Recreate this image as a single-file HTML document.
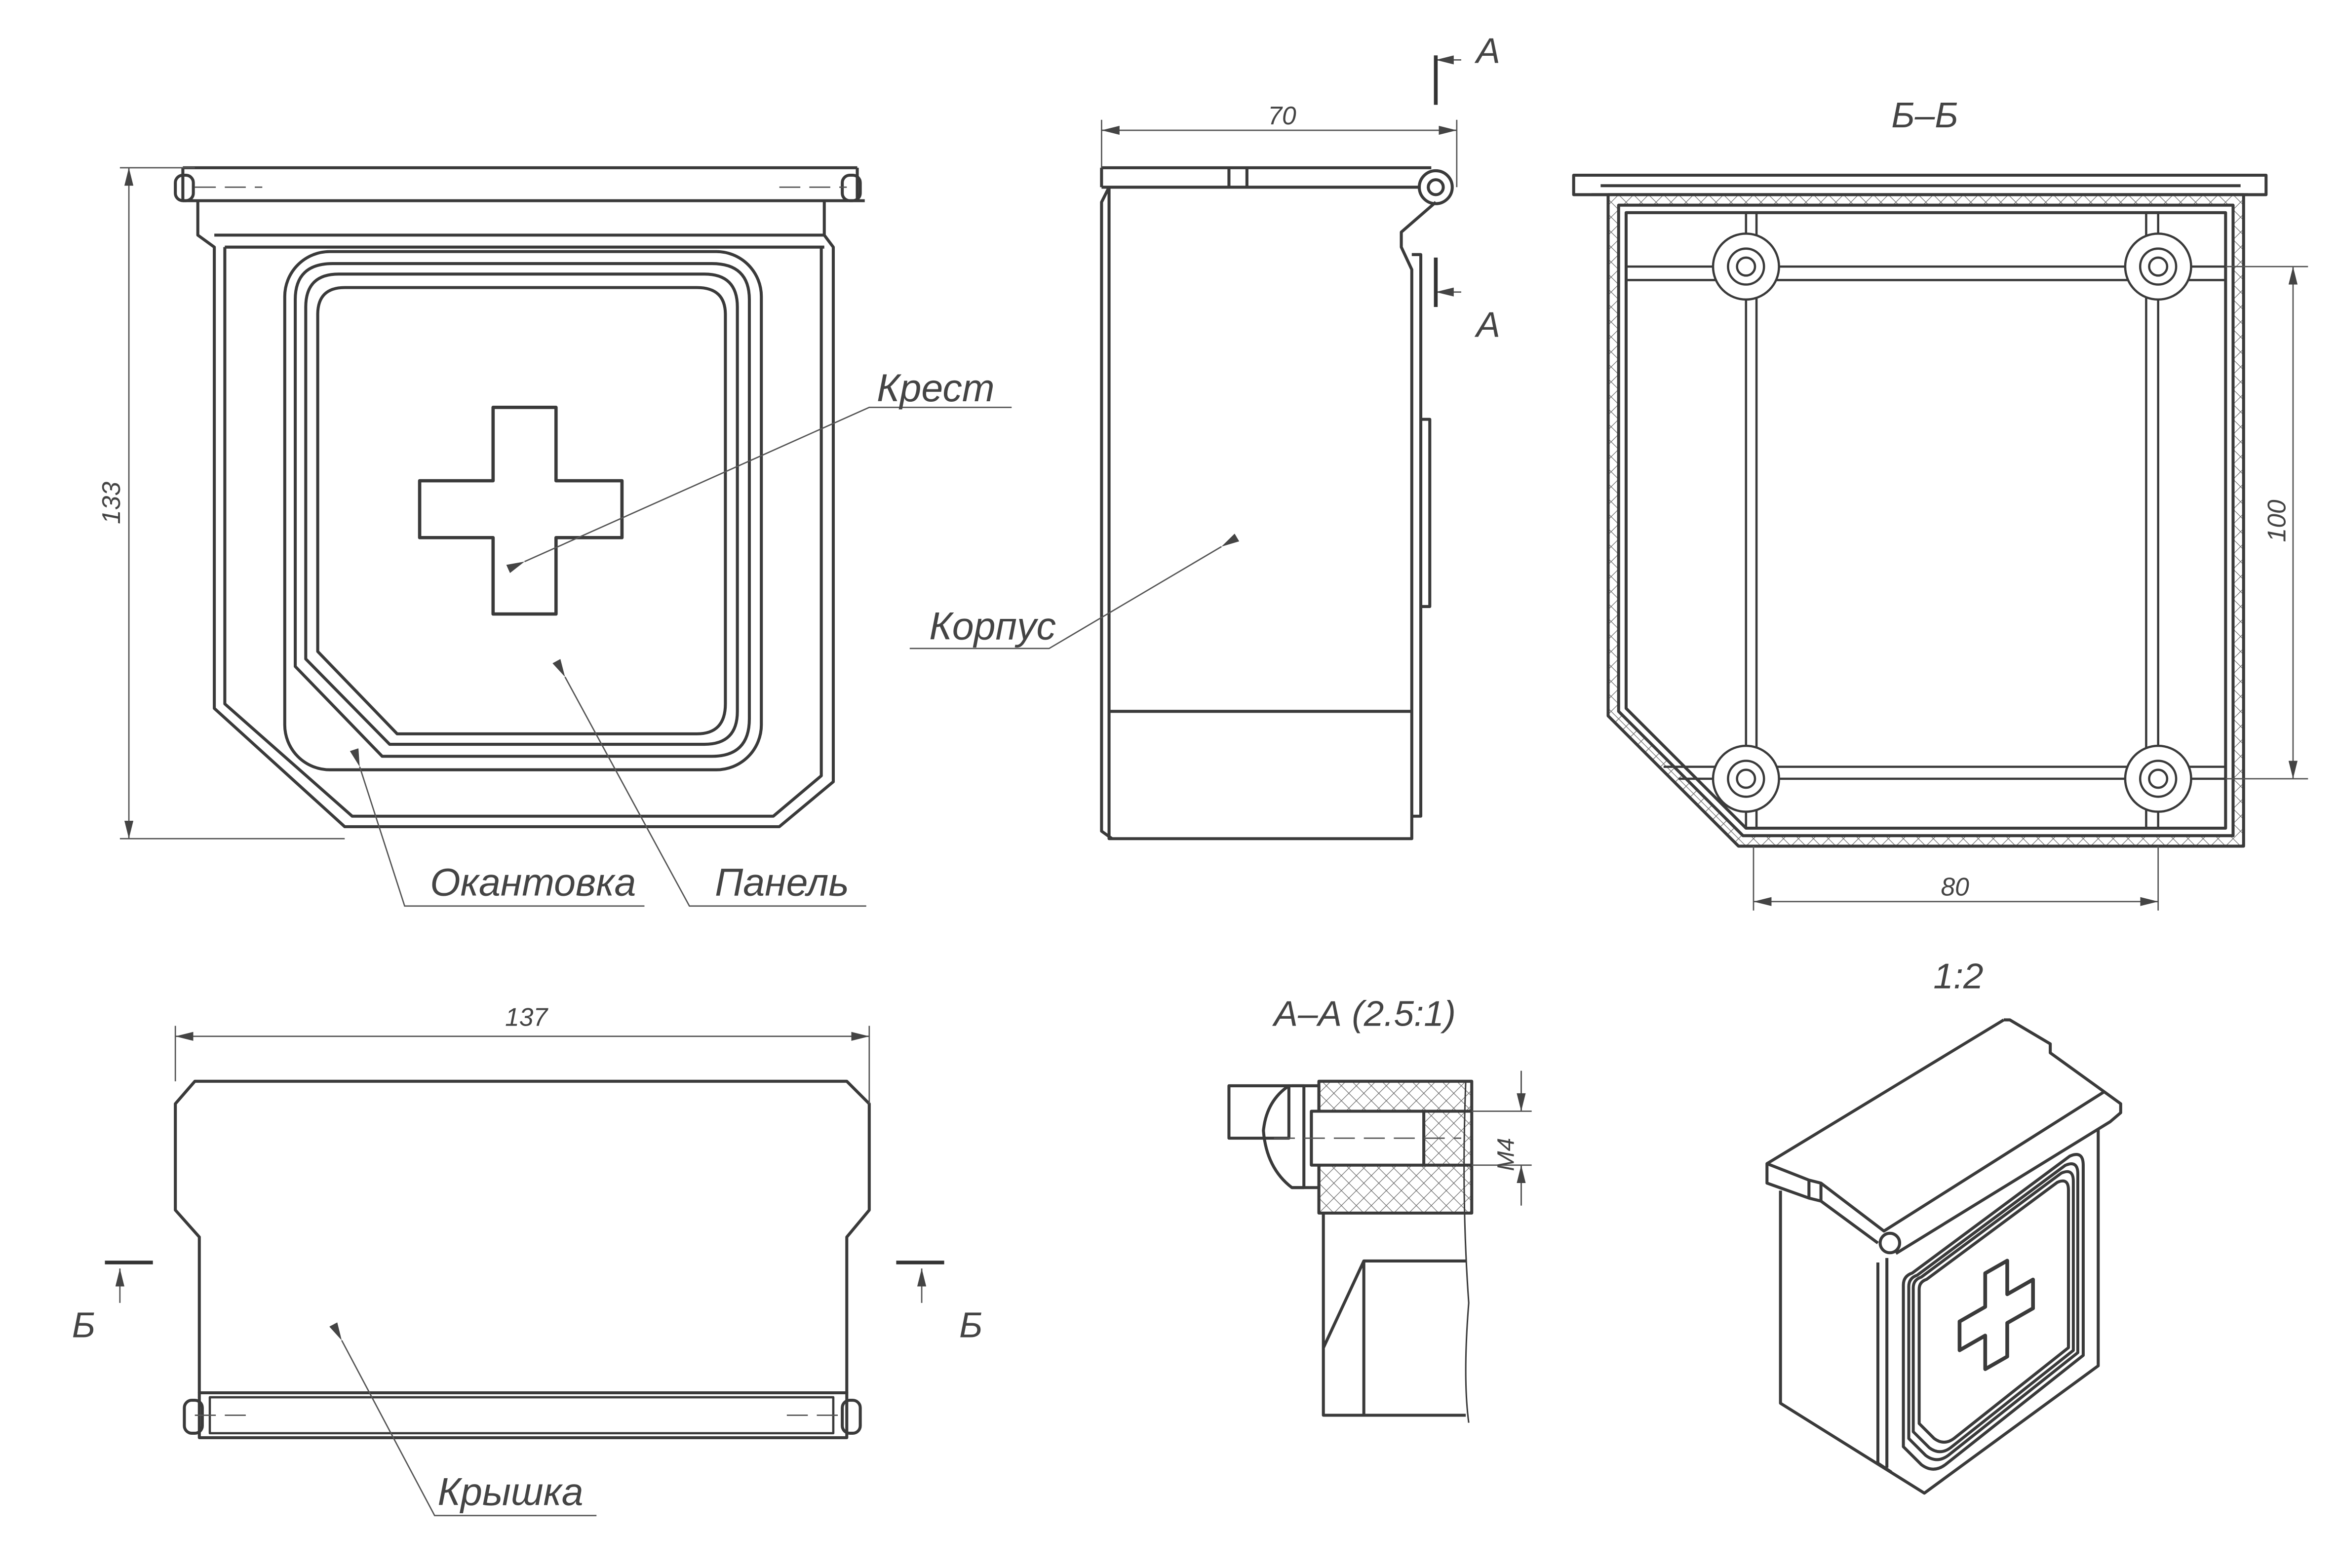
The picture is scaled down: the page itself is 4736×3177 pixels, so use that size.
<!DOCTYPE html>
<html><head><meta charset="utf-8"><style>
html,body{margin:0;padding:0;background:#fff;}
svg{display:block;}
text{font-family:"Liberation Sans",sans-serif;font-style:italic;fill:#444;}
</style></head><body>
<svg width="4736" height="3177" viewBox="0 0 1560 1047" preserveAspectRatio="none" xmlns="http://www.w3.org/2000/svg">
<defs>
<pattern id="hx" width="10" height="10" patternUnits="userSpaceOnUse">
<path d="M0,0L10,10M10,0L0,10" stroke="#666" stroke-width="0.4"/>
</pattern>
<marker id="ar" markerWidth="12" markerHeight="6" refX="12" refY="3" orient="auto" markerUnits="userSpaceOnUse"><path d="M0,0L12,3L0,6z" fill="#444"/></marker>
<marker id="al" markerWidth="12" markerHeight="6" refX="0" refY="3" orient="auto" markerUnits="userSpaceOnUse"><path d="M12,0L0,3L12,6z" fill="#444"/></marker>
</defs>
<rect width="1560" height="1047" fill="#fff"/>
<g fill="none" stroke="#3a3a3a" stroke-width="2" stroke-linejoin="round">
<!-- FRONT VIEW -->
<path d="M122,112H572M122,112V134H577M572,112V134"/>
<rect x="117" y="117" width="12" height="17" rx="5"/>
<rect x="562" y="117" width="12" height="17" rx="5"/>
<path d="M132,134V157L143,165V473L230,552H520L556,522V165L550,157V134"/>
<path d="M143,157H550M150,165H550M150,165V470L235,545H516L548,518V165"/>
<rect x="190" y="168" width="318" height="346" rx="30"/>
<path d="M197,200Q197,176 222,176H475Q500,176 500,200V480Q500,505 475,505H255L197,445Z"/>
<path d="M204,205Q204,183 226,183H470Q492,183 492,205V475Q492,497 470,497H260L204,440Z"/>
<path d="M212,210Q212,192 230,192H465Q484,192 484,210V470Q484,490 465,490H265L212,435Z"/>
<path d="M329,272H371V321H415V359H371V410H329V359H280V321H329Z" stroke-width="2.2"/>
<!-- SIDE VIEW -->
<path d="M735,112H955M735,112V125M735,125H948"/>
<path d="M740,125V560H942V475H740M740,475H942V180L935,165V155L958,135"/>
<path d="M740,125L735,135V555L742,560"/>
<path d="M820,112V125M832,112V125"/>
<circle cx="958" cy="125" r="11"/><circle cx="958" cy="125" r="5"/>
<path d="M942,170H948V545H942M948,280H954V405H948"/>
<!-- B-B SECTION -->
<path d="M1050,117H1512V130H1050Z"/>
<path d="M1062,130H1500M1068,124H1495"/>
<path d="M1073,130V478L1160,565H1497V130ZM1080,137V475L1163,558H1490V137Z" fill="url(#hx)" fill-rule="evenodd"/>
<path d="M1085,142V473L1165,553H1485V142Z"/>
<path d="M1085,178H1485M1085,187H1485M1110,512H1485M1120,520H1485M1165,142V553M1172,142V553M1432,142V553M1440,142V553" stroke-width="1.5"/>
<g stroke-width="1.5" fill="#fff">
<circle cx="1165" cy="178" r="22"/><circle cx="1165" cy="178" r="12"/><circle cx="1165" cy="178" r="6"/>
<circle cx="1440" cy="178" r="22"/><circle cx="1440" cy="178" r="12"/><circle cx="1440" cy="178" r="6"/>
<circle cx="1165" cy="520" r="22"/><circle cx="1165" cy="520" r="12"/><circle cx="1165" cy="520" r="6"/>
<circle cx="1440" cy="520" r="22"/><circle cx="1440" cy="520" r="12"/><circle cx="1440" cy="520" r="6"/>
</g>
<!-- TOP VIEW (lid) -->
<path d="M130,722H565L580,737V808L565,826V930H133V826L117,808V737Z"/>
<path d="M133,930H565V960H133Z"/>
<rect x="123" y="935" width="12" height="22" rx="5"/>
<rect x="562" y="935" width="12" height="22" rx="5"/>
<path d="M140,933H556V957H140Z" stroke-width="1.5"/>
<!-- A-A SECTION -->
<path d="M820,725H860V760H820Z"/>
<path d="M860,725Q845,735 843,755Q845,780 862,793H870V725Z"/>
<path d="M862,725H880V793H862"/>
<path d="M880,722H982V810H880Z" fill="url(#hx)"/>
<path d="M875,742H950V778H875Z" fill="#fff"/>
<path d="M950,742H982M950,778H982M875,742V778"/>
<path d="M883,810V945H978M883,900L910,842H978M910,842V945"/>
<path d="M978,722Q975,800 980,870Q976,920 980,950" stroke-width="1"/>
<!-- ISOMETRIC -->
<path d="M1337,681H1341L1368,697V703L1404,729L1415,737V743L1408,749L1265,837"/>
<path d="M1337,681L1179,777V790L1207,800L1215,802L1253,830"/>
<path d="M1179,777L1207,788L1215,790L1257,822L1404,729"/>
<path d="M1207,788V800M1215,790V802"/>
<circle cx="1261" cy="830" r="6.5"/>
<path d="M1188,795V937L1284,997L1400,912V754"/>
<path d="M1253,843V977L1262,983M1259,840V980"/>
<g vector-effect="non-scaling-stroke">
<path d="M1276,850L1381,772Q1390,768 1390,778V905L1298,978Q1290,984 1282,978L1270,966V858Q1270,852 1276,850Z"/>
<path transform="translate(1330,875) scale(0.94) translate(-1330,-875)" stroke-width="2.1" d="M1276,850L1381,772Q1390,768 1390,778V905L1298,978Q1290,984 1282,978L1270,966V858Q1270,852 1276,850Z"/>
<path transform="translate(1330,875) scale(0.89) translate(-1330,-875)" stroke-width="2.2" d="M1276,850L1381,772Q1390,768 1390,778V905L1298,978Q1290,984 1282,978L1270,966V858Q1270,852 1276,850Z"/>
<path transform="translate(1332,875) scale(0.83) translate(-1332,-875)" stroke-width="2.4" d="M1276,850L1381,772Q1390,768 1390,778V905L1298,978Q1290,984 1282,978L1270,966V858Q1270,852 1276,850Z"/>
</g>
<path d="M1324.6,850.2L1339.3,841.8V864.2L1356.5,854.4V873.6L1339.3,883.4V905.8L1324.6,914.2V891.8L1307.5,901.6V882.4L1324.6,872.6Z" stroke-width="2.5"/>
</g>
<!-- thin / dimension lines -->
<g fill="none" stroke="#555" stroke-width="0.9">
<path d="M80,112H130M80,560H230"/>
<path d="M86,112V560" marker-start="url(#al)" marker-end="url(#ar)"/>
<path d="M735,80V112M972,80V125"/>
<path d="M735,87H972" marker-start="url(#al)" marker-end="url(#ar)"/>
<path d="M117,685V722M580,685V737"/>
<path d="M117,692H580" marker-start="url(#al)" marker-end="url(#ar)"/>
<path d="M1485,178H1540M1485,520H1540"/>
<path d="M1530,178V520" marker-start="url(#al)" marker-end="url(#ar)"/>
<path d="M1170,565V608M1440,565V608"/>
<path d="M1170,602H1440" marker-start="url(#al)" marker-end="url(#ar)"/>
<path d="M982,742H1022M982,778H1022M1015,715V742M1015,778V805"/>
<path d="M1015,715V742" marker-end="url(#ar)"/><path d="M1015,805V778" marker-end="url(#ar)"/>
<path d="M975,40H958" marker-end="url(#ar)"/><path d="M975,195H958" marker-end="url(#ar)"/>
<path d="M80,870V847" marker-end="url(#ar)"/><path d="M615,870V847" marker-end="url(#ar)"/>
<path d="M130,125H175M520,125H565M130,945H170M525,945H565M850,760H975" stroke-dasharray="14,6"/>
<path d="M350,375L580,272H675" marker-start="url(#ar)"/>
<path d="M377,452L460,605H578" marker-start="url(#ar)"/>
<path d="M240,512L270,605H430" marker-start="url(#ar)"/>
<path d="M815,365L700,433H607" marker-start="url(#ar)"/>
<path d="M228,895L290,1012H398" marker-start="url(#ar)"/>
</g>
<g stroke="#333" stroke-width="2.5">
<path d="M958,37V70M958,172V205M70,843H102M598,843H630"/>
</g>
<g font-size="24">
<text x="846" y="83" font-size="17">70</text>
<text x="985" y="42">A</text>
<text x="985" y="225">A</text>
<text x="1262" y="85">Б–Б</text>
<text x="1295" y="598" font-size="17">80</text>
<text x="337" y="685" font-size="17">137</text>
<text x="585" y="268" font-size="26">Крест</text>
<text x="620" y="427" font-size="26">Корпус</text>
<text x="287" y="598" font-size="26">Окантовка</text>
<text x="477" y="598" font-size="26">Панель</text>
<text x="292" y="1005" font-size="26">Крышка</text>
<text x="850" y="685">А–А (2.5:1)</text>
<text x="1290" y="660">1:2</text>
<text x="48" y="893">Б</text>
<text x="640" y="893">Б</text>
</g>
<text x="0" y="0" font-size="17" transform="translate(80,350) rotate(-90)">133</text>
<text x="0" y="0" font-size="17" transform="translate(1525,362) rotate(-90)">100</text>
<text x="0" y="0" font-size="16" transform="translate(1010,782) rotate(-90)">M4</text>
</svg>
</body></html>
